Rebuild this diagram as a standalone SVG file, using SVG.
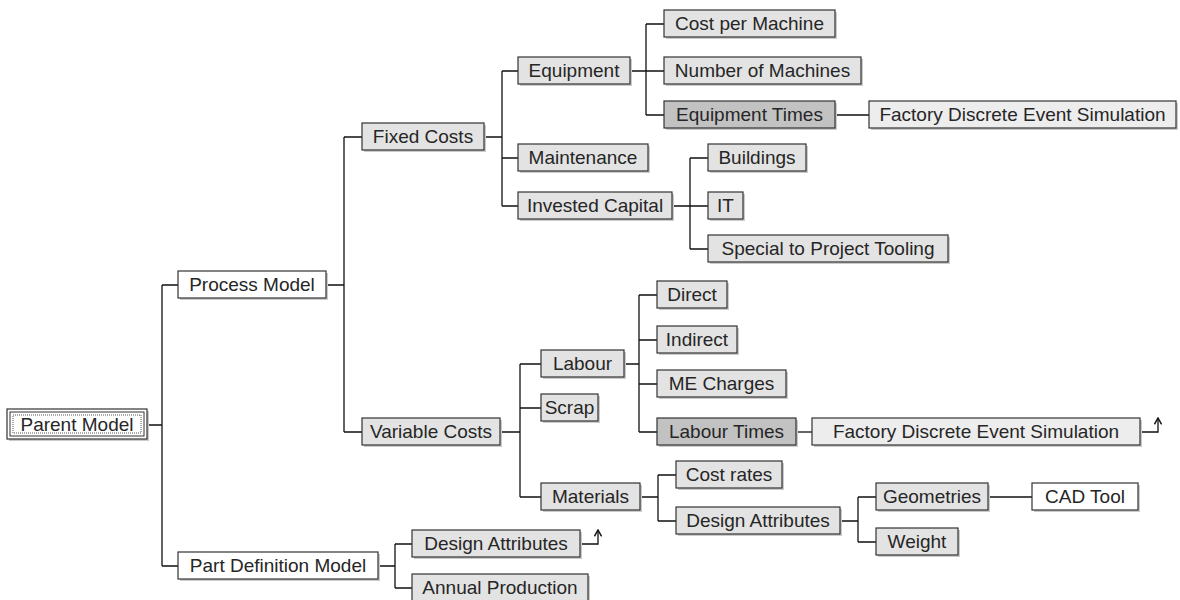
<svg xmlns="http://www.w3.org/2000/svg" width="1180" height="600" viewBox="0 0 1180 600">
  <style>
    .sh { fill: #cbcbcb; stroke: none; }
    .bx { stroke: #333; stroke-width: 1.2; }
    .w { fill: #ffffff; }
    .l { fill: #e3e3e3; }
    .d { fill: #c2c2c2; }
    .lf { fill: #ededed; }
    text { font-family: "Liberation Sans", Arial, sans-serif; font-size: 19px; fill: #262626; text-anchor: middle; }
    .c { fill: none; stroke: #111; stroke-width: 1.3; }
  </style>
  <defs>
    <!-- open arrowhead drawn along +x so orient="auto" follows the line -->
    <marker id="up" viewBox="0 0 10 10" refX="9" refY="5" markerWidth="9" markerHeight="9" markerUnits="userSpaceOnUse" orient="auto">
      <path d="M2,1 L9,5 L2,9" fill="none" stroke="#111" stroke-width="1.6"/>
    </marker>
  </defs>

  <!-- connectors -->
  <g id="connectors">
    <path class="c" d="M147,425 H162 M162,285 V566 M162,285 H178 M162,566 H178"/>
    <path class="c" d="M326,285 H344 M344,137 V432 M344,137 H362 M344,432 H362"/>
    <path class="c" d="M484,137 H502 M502,71 V206 M502,71 H518 M502,158 H518 M502,206 H518"/>
    <path class="c" d="M630,71 H646 M646,24 V115 M646,24 H664 M646,71 H664 M646,115 H664"/>
    <path class="c" d="M835,115 H869"/>
    <path class="c" d="M672,206 H690 M690,158 V249 M690,158 H708 M690,206 H708 M690,249 H708"/>
    <path class="c" d="M500,432 H520 M520,364 V497 M520,364 H541 M520,408 H541 M520,497 H541"/>
    <path class="c" d="M624,364 H639 M639,295 V432 M639,295 H657 M639,340 H657 M639,384 H657 M639,432 H657"/>
    <path class="c" d="M796,432 H812"/>
    <path class="c" d="M1140,432 H1158 V418" marker-end="url(#up)"/>
    <path class="c" d="M640,497 H658 M658,475 V521 M658,475 H676 M658,521 H676"/>
    <path class="c" d="M840,521 H858 M858,497 V542 M858,497 H876 M858,542 H876"/>
    <path class="c" d="M988,497 H1032"/>
    <path class="c" d="M378,566 H395 M395,544 V588 M395,544 H412 M395,588 H412"/>
    <path class="c" d="M580,544 H598 V530" marker-end="url(#up)"/>
  </g>

  <!-- root -->
  <g id="parent-model">
    <rect class="sh" x="9" y="411" width="140" height="30"/>
    <rect class="bx w" x="7" y="409" width="140" height="30"/>
    <rect x="10" y="412" width="134" height="24" fill="none" stroke="#333" stroke-width="1"/>
    <rect x="13" y="415" width="128" height="18" fill="none" stroke="#555" stroke-width="1" stroke-dasharray="1,1"/>
    <text x="77" y="431">Parent Model</text>
  </g>

  <g id="process-model">
    <rect class="sh" x="180" y="273" width="148" height="27"/>
    <rect class="bx w" x="178" y="271" width="148" height="27"/>
    <text x="252" y="291">Process Model</text>
  </g>

  <g id="part-definition-model">
    <rect class="sh" x="180" y="554" width="200" height="27"/>
    <rect class="bx w" x="178" y="552" width="200" height="27"/>
    <text x="278" y="572">Part Definition Model</text>
  </g>

  <g id="fixed-costs">
    <rect class="sh" x="364" y="125" width="122" height="27"/>
    <rect class="bx l" x="362" y="123" width="122" height="27"/>
    <text x="423" y="143">Fixed Costs</text>
  </g>

  <g id="variable-costs">
    <rect class="sh" x="364" y="420" width="138" height="27"/>
    <rect class="bx l" x="362" y="418" width="138" height="27"/>
    <text x="431" y="438">Variable Costs</text>
  </g>

  <g id="equipment">
    <rect class="sh" x="520" y="59" width="112" height="27"/>
    <rect class="bx l" x="518" y="57" width="112" height="27"/>
    <text x="574" y="77">Equipment</text>
  </g>

  <g id="maintenance">
    <rect class="sh" x="520" y="146" width="130" height="27"/>
    <rect class="bx l" x="518" y="144" width="130" height="27"/>
    <text x="583" y="164">Maintenance</text>
  </g>

  <g id="invested-capital">
    <rect class="sh" x="520" y="194" width="154" height="27"/>
    <rect class="bx l" x="518" y="192" width="154" height="27"/>
    <text x="595" y="212">Invested Capital</text>
  </g>

  <g id="cost-per-machine">
    <rect class="sh" x="666" y="12" width="171" height="27"/>
    <rect class="bx l" x="664" y="10" width="171" height="27"/>
    <text x="749.5" y="30">Cost per Machine</text>
  </g>

  <g id="number-of-machines">
    <rect class="sh" x="666" y="59" width="197" height="27"/>
    <rect class="bx l" x="664" y="57" width="197" height="27"/>
    <text x="762.5" y="77">Number of Machines</text>
  </g>

  <g id="equipment-times">
    <rect class="sh" x="666" y="103" width="171" height="27"/>
    <rect class="bx d" x="664" y="101" width="171" height="27"/>
    <text x="749.5" y="121">Equipment Times</text>
  </g>

  <g id="factory-sim-equipment">
    <rect class="sh" x="871" y="103" width="307" height="27"/>
    <rect class="bx lf" x="869" y="101" width="307" height="27"/>
    <text x="1022.5" y="121">Factory Discrete Event Simulation</text>
  </g>

  <g id="buildings">
    <rect class="sh" x="710" y="146" width="98" height="27"/>
    <rect class="bx l" x="708" y="144" width="98" height="27"/>
    <text x="757" y="164">Buildings</text>
  </g>

  <g id="it">
    <rect class="sh" x="710" y="194" width="35" height="27"/>
    <rect class="bx l" x="708" y="192" width="35" height="27"/>
    <text x="725.5" y="212">IT</text>
  </g>

  <g id="special-tooling">
    <rect class="sh" x="710" y="237" width="240" height="27"/>
    <rect class="bx l" x="708" y="235" width="240" height="27"/>
    <text x="828" y="255">Special to Project Tooling</text>
  </g>

  <g id="labour">
    <rect class="sh" x="543" y="352" width="83" height="27"/>
    <rect class="bx l" x="541" y="350" width="83" height="27"/>
    <text x="582.5" y="370">Labour</text>
  </g>

  <g id="scrap">
    <rect class="sh" x="543" y="396" width="57" height="27"/>
    <rect class="bx l" x="541" y="394" width="57" height="27"/>
    <text x="569.5" y="414">Scrap</text>
  </g>

  <g id="materials">
    <rect class="sh" x="543" y="485" width="99" height="27"/>
    <rect class="bx l" x="541" y="483" width="99" height="27"/>
    <text x="590.5" y="503">Materials</text>
  </g>

  <g id="direct">
    <rect class="sh" x="659" y="283" width="70" height="27"/>
    <rect class="bx l" x="657" y="281" width="70" height="27"/>
    <text x="692" y="301">Direct</text>
  </g>

  <g id="indirect">
    <rect class="sh" x="659" y="328" width="80" height="27"/>
    <rect class="bx l" x="657" y="326" width="80" height="27"/>
    <text x="697" y="346">Indirect</text>
  </g>

  <g id="me-charges">
    <rect class="sh" x="659" y="372" width="129" height="27"/>
    <rect class="bx l" x="657" y="370" width="129" height="27"/>
    <text x="721.5" y="390">ME Charges</text>
  </g>

  <g id="labour-times">
    <rect class="sh" x="659" y="420" width="139" height="27"/>
    <rect class="bx d" x="657" y="418" width="139" height="27"/>
    <text x="726.5" y="438">Labour Times</text>
  </g>

  <g id="factory-sim-labour">
    <rect class="sh" x="814" y="420" width="328" height="27"/>
    <rect class="bx lf" x="812" y="418" width="328" height="27"/>
    <text x="976" y="438">Factory Discrete Event Simulation</text>
  </g>

  <g id="cost-rates">
    <rect class="sh" x="678" y="463" width="106" height="27"/>
    <rect class="bx l" x="676" y="461" width="106" height="27"/>
    <text x="729" y="481">Cost rates</text>
  </g>

  <g id="design-attributes-materials">
    <rect class="sh" x="678" y="509" width="164" height="27"/>
    <rect class="bx l" x="676" y="507" width="164" height="27"/>
    <text x="758" y="527">Design Attributes</text>
  </g>

  <g id="geometries">
    <rect class="sh" x="878" y="485" width="112" height="27"/>
    <rect class="bx l" x="876" y="483" width="112" height="27"/>
    <text x="932" y="503">Geometries</text>
  </g>

  <g id="weight">
    <rect class="sh" x="878" y="530" width="82" height="27"/>
    <rect class="bx l" x="876" y="528" width="82" height="27"/>
    <text x="917" y="548">Weight</text>
  </g>

  <g id="cad-tool">
    <rect class="sh" x="1034" y="485" width="106" height="27"/>
    <rect class="bx w" x="1032" y="483" width="106" height="27"/>
    <text x="1085" y="503">CAD Tool</text>
  </g>

  <g id="design-attributes-part">
    <rect class="sh" x="414" y="532" width="168" height="27"/>
    <rect class="bx l" x="412" y="530" width="168" height="27"/>
    <text x="496" y="550">Design Attributes</text>
  </g>

  <g id="annual-production">
    <rect class="sh" x="414" y="576" width="176" height="27"/>
    <rect class="bx l" x="412" y="574" width="176" height="27"/>
    <text x="500" y="594">Annual Production</text>
  </g>
</svg>
